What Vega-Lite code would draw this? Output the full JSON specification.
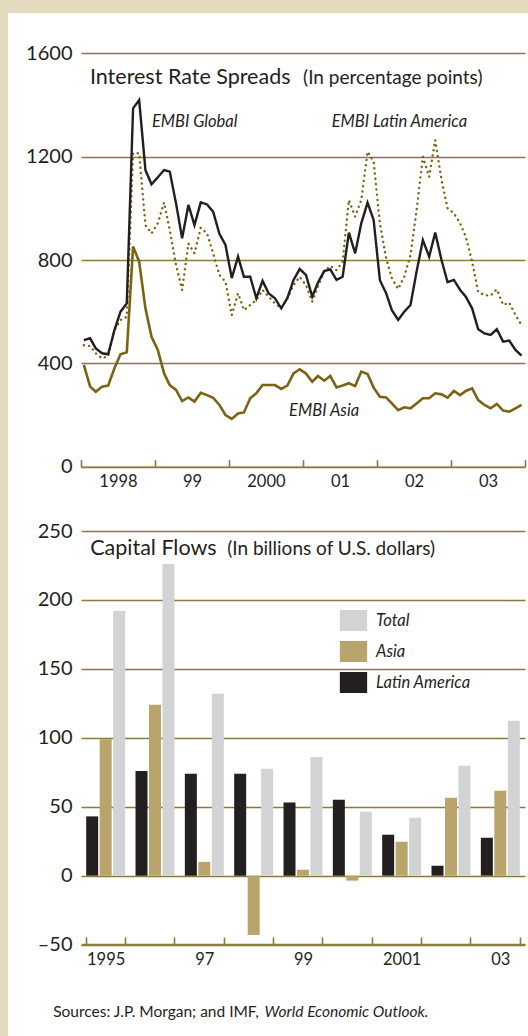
{
  "$schema": "https://vega.github.io/schema/vega-lite/v6.json",
  "width": 520,
  "height": 1023,
  "autosize": {"type": "none"},
  "padding": {"left": 8, "top": 13, "right": 0, "bottom": 0},
  "background": "#e4dbbf",
  "config": {
    "view": {"fill": "white", "stroke": null},
    "font": "Lato",
    "axis": {"labelFont": "Lato", "labelColor": "#231f20", "title": null}
  },
  "datasets": {
    "spreads": [
      {"date": "1998/01/15", "global": 490, "latam": 470, "asia": 394},
      {"date": "1998/02/15", "global": 497, "latam": 467, "asia": 310},
      {"date": "1998/03/15", "global": 458, "latam": 439, "asia": 290},
      {"date": "1998/04/15", "global": 439, "latam": 419, "asia": 310},
      {"date": "1998/05/15", "global": 435, "latam": 430, "asia": 314},
      {"date": "1998/06/15", "global": 529, "latam": 529, "asia": 381},
      {"date": "1998/07/15", "global": 600, "latam": 568, "asia": 435},
      {"date": "1998/08/15", "global": 632, "latam": 580, "asia": 443},
      {"date": "1998/09/15", "global": 1387, "latam": 1213, "asia": 852},
      {"date": "1998/10/15", "global": 1419, "latam": 1213, "asia": 794},
      {"date": "1998/11/15", "global": 1148, "latam": 935, "asia": 613},
      {"date": "1998/12/15", "global": 1093, "latam": 903, "asia": 503},
      {"date": "1999/01/15", "global": 1120, "latam": 942, "asia": 452},
      {"date": "1999/02/15", "global": 1148, "latam": 1023, "asia": 361},
      {"date": "1999/03/15", "global": 1142, "latam": 916, "asia": 316},
      {"date": "1999/04/15", "global": 1019, "latam": 781, "asia": 297},
      {"date": "1999/05/15", "global": 884, "latam": 684, "asia": 254},
      {"date": "1999/06/15", "global": 1013, "latam": 864, "asia": 268},
      {"date": "1999/07/15", "global": 935, "latam": 826, "asia": 252},
      {"date": "1999/08/15", "global": 1023, "latam": 925, "asia": 286},
      {"date": "1999/09/15", "global": 1015, "latam": 903, "asia": 277},
      {"date": "1999/10/15", "global": 987, "latam": 826, "asia": 267},
      {"date": "1999/11/15", "global": 901, "latam": 742, "asia": 239},
      {"date": "1999/12/15", "global": 858, "latam": 716, "asia": 200},
      {"date": "2000/01/15", "global": 730, "latam": 587, "asia": 185},
      {"date": "2000/02/15", "global": 813, "latam": 671, "asia": 206},
      {"date": "2000/03/15", "global": 735, "latam": 606, "asia": 210},
      {"date": "2000/04/15", "global": 735, "latam": 626, "asia": 265},
      {"date": "2000/05/15", "global": 652, "latam": 645, "asia": 284},
      {"date": "2000/06/15", "global": 719, "latam": 684, "asia": 316},
      {"date": "2000/07/15", "global": 671, "latam": 658, "asia": 316},
      {"date": "2000/08/15", "global": 652, "latam": 632, "asia": 316},
      {"date": "2000/09/15", "global": 613, "latam": 613, "asia": 301},
      {"date": "2000/10/15", "global": 652, "latam": 652, "asia": 314},
      {"date": "2000/11/15", "global": 723, "latam": 703, "asia": 361},
      {"date": "2000/12/15", "global": 765, "latam": 735, "asia": 377},
      {"date": "2001/01/15", "global": 742, "latam": 703, "asia": 361},
      {"date": "2001/02/15", "global": 658, "latam": 639, "asia": 329},
      {"date": "2001/03/15", "global": 712, "latam": 697, "asia": 351},
      {"date": "2001/04/15", "global": 757, "latam": 755, "asia": 333},
      {"date": "2001/05/15", "global": 764, "latam": 777, "asia": 351},
      {"date": "2001/06/15", "global": 723, "latam": 761, "asia": 307},
      {"date": "2001/07/15", "global": 735, "latam": 793, "asia": 314},
      {"date": "2001/08/15", "global": 906, "latam": 1032, "asia": 323},
      {"date": "2001/09/15", "global": 826, "latam": 968, "asia": 312},
      {"date": "2001/10/15", "global": 942, "latam": 1032, "asia": 368},
      {"date": "2001/11/15", "global": 1022, "latam": 1219, "asia": 359},
      {"date": "2001/12/15", "global": 955, "latam": 1180, "asia": 306},
      {"date": "2002/01/15", "global": 722, "latam": 942, "asia": 271},
      {"date": "2002/02/15", "global": 671, "latam": 806, "asia": 268},
      {"date": "2002/03/15", "global": 606, "latam": 729, "asia": 245},
      {"date": "2002/04/15", "global": 568, "latam": 688, "asia": 219},
      {"date": "2002/05/15", "global": 600, "latam": 735, "asia": 230},
      {"date": "2002/06/15", "global": 626, "latam": 819, "asia": 226},
      {"date": "2002/07/15", "global": 755, "latam": 993, "asia": 245},
      {"date": "2002/08/15", "global": 877, "latam": 1200, "asia": 265},
      {"date": "2002/09/15", "global": 813, "latam": 1122, "asia": 265},
      {"date": "2002/10/15", "global": 906, "latam": 1264, "asia": 284},
      {"date": "2002/11/15", "global": 800, "latam": 1110, "asia": 280},
      {"date": "2002/12/15", "global": 714, "latam": 1000, "asia": 267},
      {"date": "2003/01/15", "global": 723, "latam": 981, "asia": 293},
      {"date": "2003/02/15", "global": 684, "latam": 942, "asia": 277},
      {"date": "2003/03/15", "global": 658, "latam": 890, "asia": 293},
      {"date": "2003/04/15", "global": 613, "latam": 794, "asia": 303},
      {"date": "2003/05/15", "global": 532, "latam": 677, "asia": 258},
      {"date": "2003/06/15", "global": 516, "latam": 664, "asia": 239},
      {"date": "2003/07/15", "global": 510, "latam": 662, "asia": 226},
      {"date": "2003/08/15", "global": 532, "latam": 686, "asia": 243},
      {"date": "2003/09/15", "global": 484, "latam": 626, "asia": 217},
      {"date": "2003/10/15", "global": 488, "latam": 635, "asia": 213},
      {"date": "2003/11/15", "global": 452, "latam": 587, "asia": 226},
      {"date": "2003/12/15", "global": 430, "latam": 548, "asia": 239}
    ],
    "flows": [
      {"year": "1995", "series": "Latin America", "value": 43},
      {"year": "1995", "series": "Asia", "value": 99},
      {"year": "1995", "series": "Total", "value": 192},
      {"year": "1996", "series": "Latin America", "value": 76},
      {"year": "1996", "series": "Asia", "value": 124},
      {"year": "1996", "series": "Total", "value": 226},
      {"year": "1997", "series": "Latin America", "value": 74},
      {"year": "1997", "series": "Asia", "value": 10},
      {"year": "1997", "series": "Total", "value": 132},
      {"year": "1998", "series": "Latin America", "value": 74},
      {"year": "1998", "series": "Asia", "value": -43},
      {"year": "1998", "series": "Total", "value": 77.5},
      {"year": "1999", "series": "Latin America", "value": 53},
      {"year": "1999", "series": "Asia", "value": 4.3},
      {"year": "1999", "series": "Total", "value": 86},
      {"year": "2000", "series": "Latin America", "value": 55},
      {"year": "2000", "series": "Asia", "value": -3.6},
      {"year": "2000", "series": "Total", "value": 46.4},
      {"year": "2001", "series": "Latin America", "value": 29.7},
      {"year": "2001", "series": "Asia", "value": 24.6},
      {"year": "2001", "series": "Total", "value": 42},
      {"year": "2002", "series": "Latin America", "value": 7.2},
      {"year": "2002", "series": "Asia", "value": 56.5},
      {"year": "2002", "series": "Total", "value": 79.7},
      {"year": "2003", "series": "Latin America", "value": 27.5},
      {"year": "2003", "series": "Asia", "value": 61.6},
      {"year": "2003", "series": "Total", "value": 112.3}
    ]
  },
  "layer": [
    {
      "data": {"name": "spreads"},
      "encoding": {
        "x": {
          "field": "date", "type": "temporal",
          "scale": {
            "domain": [{"year": 1998, "month": 1, "date": 1}, {"year": 2004, "month": 1, "date": 1}],
            "range": [73, 517]
          },
          "axis": {
            "orient": "bottom", "offset": -569.3,
            "values": [
              {"year": 1998, "month": 1, "date": 1}, {"year": 1999, "month": 1, "date": 1},
              {"year": 2000, "month": 1, "date": 1}, {"year": 2001, "month": 1, "date": 1},
              {"year": 2002, "month": 1, "date": 1}, {"year": 2003, "month": 1, "date": 1},
              {"year": 2004, "month": 1, "date": 1}
            ],
            "labelExpr": "year(datum.value) == 2004 ? '' : (year(datum.value) == 1998 || year(datum.value) == 2000) ? timeFormat(datum.value, '%Y') : timeFormat(datum.value, '%y')",
            "labelOffset": 37, "labelFlush": false, "labelOverlap": false, "labelBound": false,
            "grid": false, "domainColor": "#8b7a3c", "domainWidth": 1.6,
            "tickColor": "#8b7a3c", "tickWidth": 1.6, "tickSize": -7,
            "labelPadding": 14, "labelFontSize": 16.5, "labelAngle": 0
          }
        },
        "y": {
          "field": "asia", "type": "quantitative",
          "scale": {"domain": [0, 1600], "range": [453.7, 40.3], "nice": false, "zero": false},
          "axis": {
            "orient": "left", "offset": -73, "format": "d",
            "values": [0, 400, 800, 1200, 1600],
            "grid": true, "gridColor": "#8b7a3c", "gridWidth": 1.6,
            "domain": false, "ticks": false,
            "labelFontSize": 20, "labelPadding": 9, "labelBaseline": "middle"
          }
        }
      },
      "layer": [
        {
          "mark": {"type": "line", "color": "#7a6412", "strokeWidth": 2.4, "strokeDash": [0.1, 5.2], "strokeCap": "round"},
          "encoding": {"y": {"field": "latam", "type": "quantitative"}}
        },
        {
          "mark": {"type": "line", "color": "#7a6412", "strokeWidth": 2.6},
          "encoding": {"y": {"field": "asia", "type": "quantitative"}}
        },
        {
          "mark": {"type": "line", "color": "#231f20", "strokeWidth": 2.4},
          "encoding": {"y": {"field": "global", "type": "quantitative"}}
        },
        {
          "transform": [{"filter": "datum.global == 490"}],
          "mark": {"type": "text", "text": "Interest Rate Spreads", "fontSize": 21.5, "align": "left", "baseline": "alphabetic", "color": "#231f20"},
          "encoding": {"x": {"datum": {"year": 1998, "month": 2, "date": 14}, "type": "temporal"}, "y": {"datum": 1481, "type": "quantitative"}}
        },
        {
          "transform": [{"filter": "datum.global == 490"}],
          "mark": {"type": "text", "text": "(In percentage points)", "fontSize": 19, "align": "left", "baseline": "alphabetic", "color": "#231f20"},
          "encoding": {"x": {"datum": {"year": 2001, "month": 1, "date": 1}, "type": "temporal"}, "y": {"datum": 1481, "type": "quantitative"}}
        },
        {
          "transform": [{"filter": "datum.global == 490"}],
          "mark": {"type": "text", "text": "EMBI Global", "fontSize": 16.5, "fontStyle": "italic", "align": "left", "baseline": "alphabetic", "color": "#231f20"},
          "encoding": {"x": {"datum": {"year": 1998, "month": 12, "date": 17}, "type": "temporal"}, "y": {"datum": 1315, "type": "quantitative"}}
        },
        {
          "transform": [{"filter": "datum.global == 490"}],
          "mark": {"type": "text", "text": "EMBI Latin America", "fontSize": 16.5, "fontStyle": "italic", "align": "left", "baseline": "alphabetic", "color": "#231f20"},
          "encoding": {"x": {"datum": {"year": 2001, "month": 5, "date": 22}, "type": "temporal"}, "y": {"datum": 1315, "type": "quantitative"}}
        },
        {
          "transform": [{"filter": "datum.global == 490"}],
          "mark": {"type": "text", "text": "EMBI Asia", "fontSize": 16.5, "fontStyle": "italic", "align": "left", "baseline": "alphabetic", "color": "#231f20"},
          "encoding": {"x": {"datum": {"year": 2000, "month": 10, "date": 24}, "type": "temporal"}, "y": {"datum": 196, "type": "quantitative"}}
        }
      ]
    },
    {
      "data": {"name": "flows"},
      "encoding": {
        "x": {
          "field": "year", "type": "nominal",
          "scale": {
            "domain": ["1995", "1996", "1997", "1998", "1999", "2000", "2001", "2002", "2003"],
            "range": [73, 517], "paddingInner": 0.21, "paddingOuter": 0.105
          },
          "axis": {
            "orient": "bottom", "offset": -92,
            "tickBand": "extent",
            "labelExpr": "datum.value == '1995' ? '1995' : datum.value == '1997' ? '97' : datum.value == '1999' ? '99' : datum.value == '2001' ? '2001' : datum.value == '2003' ? '03' : ''",
            "labelAngle": 0, "labelOverlap": false, "labelBound": false,
            "grid": false, "domainColor": "#8b7a3c", "domainWidth": 1.6,
            "tickColor": "#8b7a3c", "tickWidth": 1.6, "tickSize": -7,
            "labelPadding": 14, "labelFontSize": 16.5
          }
        },
        "y": {
          "field": "value", "type": "quantitative",
          "scale": {"domain": [-50, 250], "range": [931.6, 518], "nice": false, "zero": false},
          "axis": {
            "orient": "left", "offset": -73,
            "values": [-50, 0, 50, 100, 150, 200, 250],
            "labelExpr": "datum.value < 0 ? '–' + abs(datum.value) : datum.label",
            "grid": true, "gridColor": "#8b7a3c", "gridWidth": 1.6,
            "domain": false, "ticks": false,
            "labelFontSize": 20, "labelPadding": 9, "labelBaseline": "middle"
          }
        }
      },
      "layer": [
        {
          "mark": {"type": "bar"},
          "encoding": {
            "xOffset": {"field": "series", "type": "nominal", "scale": {"domain": ["Latin America", "Asia", "Total"], "paddingInner": 0.11, "paddingOuter": 0}},
            "color": {
              "field": "series", "type": "nominal",
              "scale": {"domain": ["Total", "Asia", "Latin America"], "range": ["#d1d3d4", "#b9a46c", "#231f20"]},
              "legend": {
                "title": null, "orient": "none", "legendX": 335, "legendY": 597,
                "symbolType": "M-1.3,-1H1.3V1H-1.3Z", "symbolSize": 441, "symbolStrokeWidth": 0, "symbolOpacity": 1,
                "labelFontSize": 16.5, "labelFontStyle": "italic", "labelColor": "#231f20", "labelFont": "Lato",
                "labelOffset": 12, "rowPadding": 10
              }
            }
          }
        },
        {
          "transform": [{"filter": "datum.year == '1995' && datum.series == 'Total'"}],
          "mark": {"type": "text", "text": "Capital Flows", "fontSize": 21.5, "align": "left", "baseline": "alphabetic", "dx": 4, "color": "#231f20"},
          "encoding": {"x": {"datum": "1995", "type": "nominal", "bandPosition": 0}, "y": {"datum": 232.7, "type": "quantitative"}}
        },
        {
          "transform": [{"filter": "datum.year == '1995' && datum.series == 'Total'"}],
          "mark": {"type": "text", "text": "(In billions of U.S. dollars)", "fontSize": 19, "align": "left", "baseline": "alphabetic", "dx": -7, "color": "#231f20"},
          "encoding": {"x": {"datum": "1998", "type": "nominal", "bandPosition": 0}, "y": {"datum": 232.7, "type": "quantitative"}}
        },
        {
          "transform": [{"filter": "datum.year == '1995' && datum.series == 'Total'"}],
          "mark": {"type": "text", "text": "Sources: J.P. Morgan; and IMF,", "fontSize": 15.5, "align": "left", "baseline": "alphabetic", "dx": -33, "color": "#231f20"},
          "encoding": {"x": {"datum": "1995", "type": "nominal", "bandPosition": 0}, "y": {"datum": -102.5, "type": "quantitative"}}
        },
        {
          "transform": [{"filter": "datum.year == '1995' && datum.series == 'Total'"}],
          "mark": {"type": "text", "text": "World Economic Outlook.", "fontSize": 15.5, "fontStyle": "italic", "align": "left", "baseline": "alphabetic", "dx": -19, "color": "#231f20"},
          "encoding": {"x": {"datum": "1999", "type": "nominal", "bandPosition": 0}, "y": {"datum": -102.5, "type": "quantitative"}}
        }
      ]
    }
  ],
  "resolve": {"scale": {"x": "independent", "y": "independent"}}
}
